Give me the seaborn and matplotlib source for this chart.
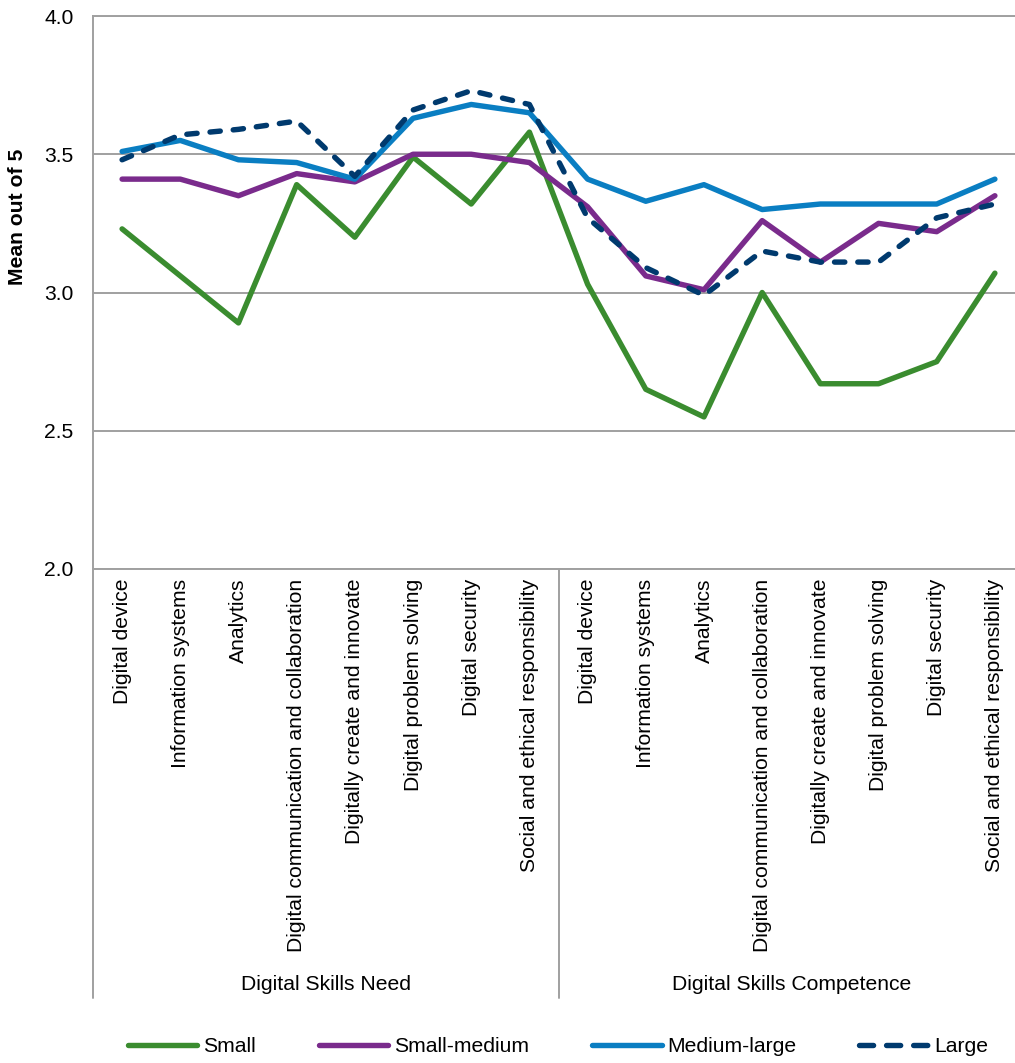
import numpy as np
import pandas as pd
import matplotlib
matplotlib.use("Agg")
import matplotlib.pyplot as plt
import seaborn as sns

# skill areas (same eight for both groups)
skills = [
    'Digital device', 'Information systems', 'Analytics',
    'Digital communication and collaboration', 'Digitally create and innovate',
    'Digital problem solving', 'Digital security', 'Social and ethical responsibility'
]
groups = ['Digital Skills Need', 'Digital Skills Competence']

sizes = ['Small', 'Small-medium', 'Medium-large', 'Large']

# mean out of 5, need (8) then competence (8)
small = [3.23, 3.06, 2.89, 3.39, 3.20, 3.49, 3.32, 3.58,
         3.03, 2.65, 2.55, 3.00, 2.67, 2.67, 2.75, 3.07]
small_medium = [3.41, 3.41, 3.35, 3.43, 3.40, 3.50, 3.50, 3.47,
                3.31, 3.06, 3.01, 3.26, 3.11, 3.25, 3.22, 3.35]
medium_large = [3.51, 3.55, 3.48, 3.47, 3.41, 3.63, 3.68, 3.65,
                3.41, 3.33, 3.39, 3.30, 3.32, 3.32, 3.32, 3.41]
large = [3.48, 3.57, 3.59, 3.62, 3.42, 3.66, 3.73, 3.68,
         3.27, 3.09, 2.99, 3.15, 3.11, 3.11, 3.27, 3.32]

colors = {'Small': '#3A8C2F', 'Small-medium': '#7A2B8C',
          'Medium-large': '#0A7EC2', 'Large': '#003A6E'}

tick_labels = skills + skills
series = {'Small': small, 'Small-medium': small_medium,
          'Medium-large': medium_large, 'Large': large}

rows = []
for name in sizes:
    for i, v in enumerate(series[name]):
        rows.append({'pos': i, 'Size': name, 'Mean': v})
df = pd.DataFrame(rows)

sns.set_theme(style="white")
plt.rcParams['font.family'] = ['Liberation Sans', 'DejaVu Sans']
plt.rcParams['text.color'] = 'black'
plt.rcParams['xtick.color'] = 'black'
plt.rcParams['ytick.color'] = 'black'
plt.rcParams['xtick.labelcolor'] = 'black'
plt.rcParams['ytick.labelcolor'] = 'black'
fs = 15.2
lw = 3.9

fig = plt.figure(figsize=(10.15, 10.63), dpi=100)
ax = fig.add_axes([93 / 1015, 1 - 569 / 1063, 931 / 1015, 553 / 1063])

sns.lineplot(data=df, x='pos', y='Mean', hue='Size', style='Size',
             hue_order=sizes, style_order=sizes, palette=colors,
             dashes={'Small': '', 'Small-medium': '', 'Medium-large': '', 'Large': (1.9, 2.4)},
             linewidth=lw, ax=ax, legend=True)

for ln in ax.get_lines():
    ln.set_solid_capstyle('round')
    ln.set_dash_capstyle('round')
    ln.set_solid_joinstyle('round')
    ln.set_dash_joinstyle('round')

grey = '#A0A0A0'
ax.set_xlim(-0.5, len(tick_labels) - 0.5)
ax.set_ylim(2.0, 4.0)
ax.set_yticks([2.0, 2.5, 3.0, 3.5, 4.0])
ax.set_yticklabels(['2.0', '2.5', '3.0', '3.5', '4.0'], fontsize=fs)
ax.yaxis.grid(True, color=grey, linewidth=1.4)
ax.xaxis.grid(False)
ax.set_axisbelow(True)
ax.set_xticks(np.arange(len(tick_labels)))
ax.set_xticklabels(tick_labels, rotation=90, fontsize=fs, va='top', ha='center')
ax.tick_params(axis='y', length=0, pad=14)
ax.tick_params(axis='x', length=0, pad=7)
ax.set_xlabel('')
ax.set_ylabel('')
for side in ['left', 'top', 'bottom']:
    ax.spines[side].set_color(grey)
    ax.spines[side].set_linewidth(1.4)
ax.spines['right'].set_visible(False)

# category group dividers and labels
y_end = (569 - 998) / 553
for xpos in [-0.5, 7.5]:
    ax.plot([xpos, xpos], [0, y_end], color=grey, linewidth=1.4,
            transform=ax.get_xaxis_transform(), clip_on=False)
y_grp = (569 - 985) / 553
n = len(skills)
for k, g in enumerate(groups):
    ax.text(k * n + (n - 1) / 2, y_grp, g, transform=ax.get_xaxis_transform(),
            ha='center', va='center', fontsize=fs)

fig.text(18 / 1015, 1 - 217 / 1063, 'Mean out of 5', rotation=90,
         ha='center', va='center', fontsize=fs, fontweight='bold')

handles, labels = ax.get_legend_handles_labels()
ax.get_legend().remove()
leg = fig.legend(handles, labels, loc='center', bbox_to_anchor=(558 / 1015, 1 - 1047 / 1063),
                 ncol=4, frameon=False, fontsize=fs, handlelength=3.3,
                 handletextpad=0.25, columnspacing=3.0)
for h in leg.get_lines():
    h.set_linewidth(lw)
    h.set_solid_capstyle('round')
    h.set_dash_capstyle('round')
leg.get_lines()[-1].set_dashes((2.6, 2.4))

fig.savefig('out.png', dpi=100)
